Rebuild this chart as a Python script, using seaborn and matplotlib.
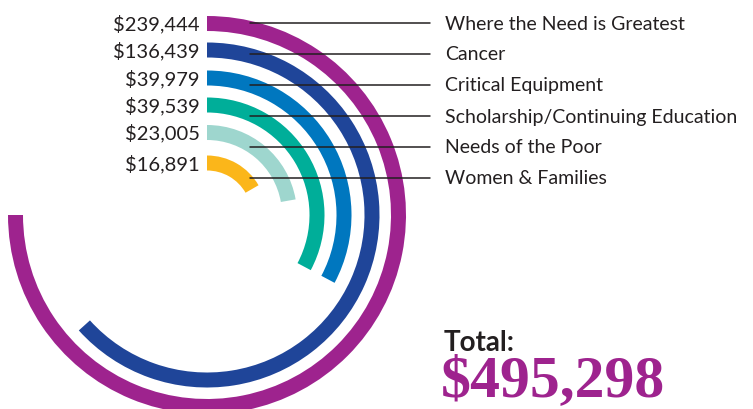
import numpy as np
import pandas as pd
import matplotlib.pyplot as plt
import seaborn as sns

# Data
categories = ['Where the Need is Greatest', 'Cancer', 'Critical Equipment',
              'Scholarship/Continuing Education', 'Needs of the Poor', 'Women & Families']
amounts = [239444, 136439, 39979, 39539, 23005, 16891]
# arc sweep (degrees, clockwise from 12 o'clock) as drawn in the original
sweep_deg = [270, 228, 118, 118, 80, 60]
colors = ['#9E238E', '#1F4599', '#0077BF', '#00AE99', '#9ED6CE', '#FBB61A']
total = 495298

df = pd.DataFrame({'category': categories, 'amount': amounts, 'sweep': sweep_deg, 'color': colors})

sns.set_theme(style='white')
plt.rcParams['font.family'] = ['Lato', 'DejaVu Sans']

W, H = 753, 410
fig = plt.figure(figsize=(W / 100, H / 100), dpi=100)

# polar axes for the arcs: center at (207, 216) px, radius scale 200 px
cx, cy, R = 207, 216, 200
pax = fig.add_axes([(cx - R) / W, (H - cy - R) / H, 2 * R / W, 2 * R / H], projection='polar')
pax.set_theta_zero_location('N')
pax.set_theta_direction(-1)
pax.set_rlim(0, R)
radii = [191.5, 165, 137, 110, 82.5, 52]
pax.barh(y=radii, width=np.deg2rad(df['sweep']), left=0, height=15,
         color=df['color'], align='center', linewidth=0)
pax.set_axis_off()

# overlay axes in pixel coordinates for labels and leader lines
ax = fig.add_axes([0, 0, 1, 1])
ax.set_xlim(0, W)
ax.set_ylim(H, 0)
ax.set_axis_off()
ax.patch.set_alpha(0)

text_color = '#231F20'
line_y = [24, 55, 86, 117, 148, 179]
for i, row in df.iterrows():
    ax.text(200, cy - radii[i], f"${row['amount']:,}", ha='right', va='center',
            fontsize=14.5, color=text_color)
    ax.plot([250, 430], [line_y[i], line_y[i]], color='#231F20', lw=1.1)
    ax.text(445, line_y[i], row['category'], ha='left', va='center',
            fontsize=14, color=text_color)

ax.text(444, 343, 'Total:', ha='left', va='center', fontsize=20,
        fontweight='bold', color=text_color)
ax.text(441, 396, f"${total:,}", ha='left', va='baseline', fontsize=43,
        fontweight='bold', color=colors[0], family=['Liberation Serif', 'DejaVu Serif'])

fig.savefig('out.png', dpi=100)
